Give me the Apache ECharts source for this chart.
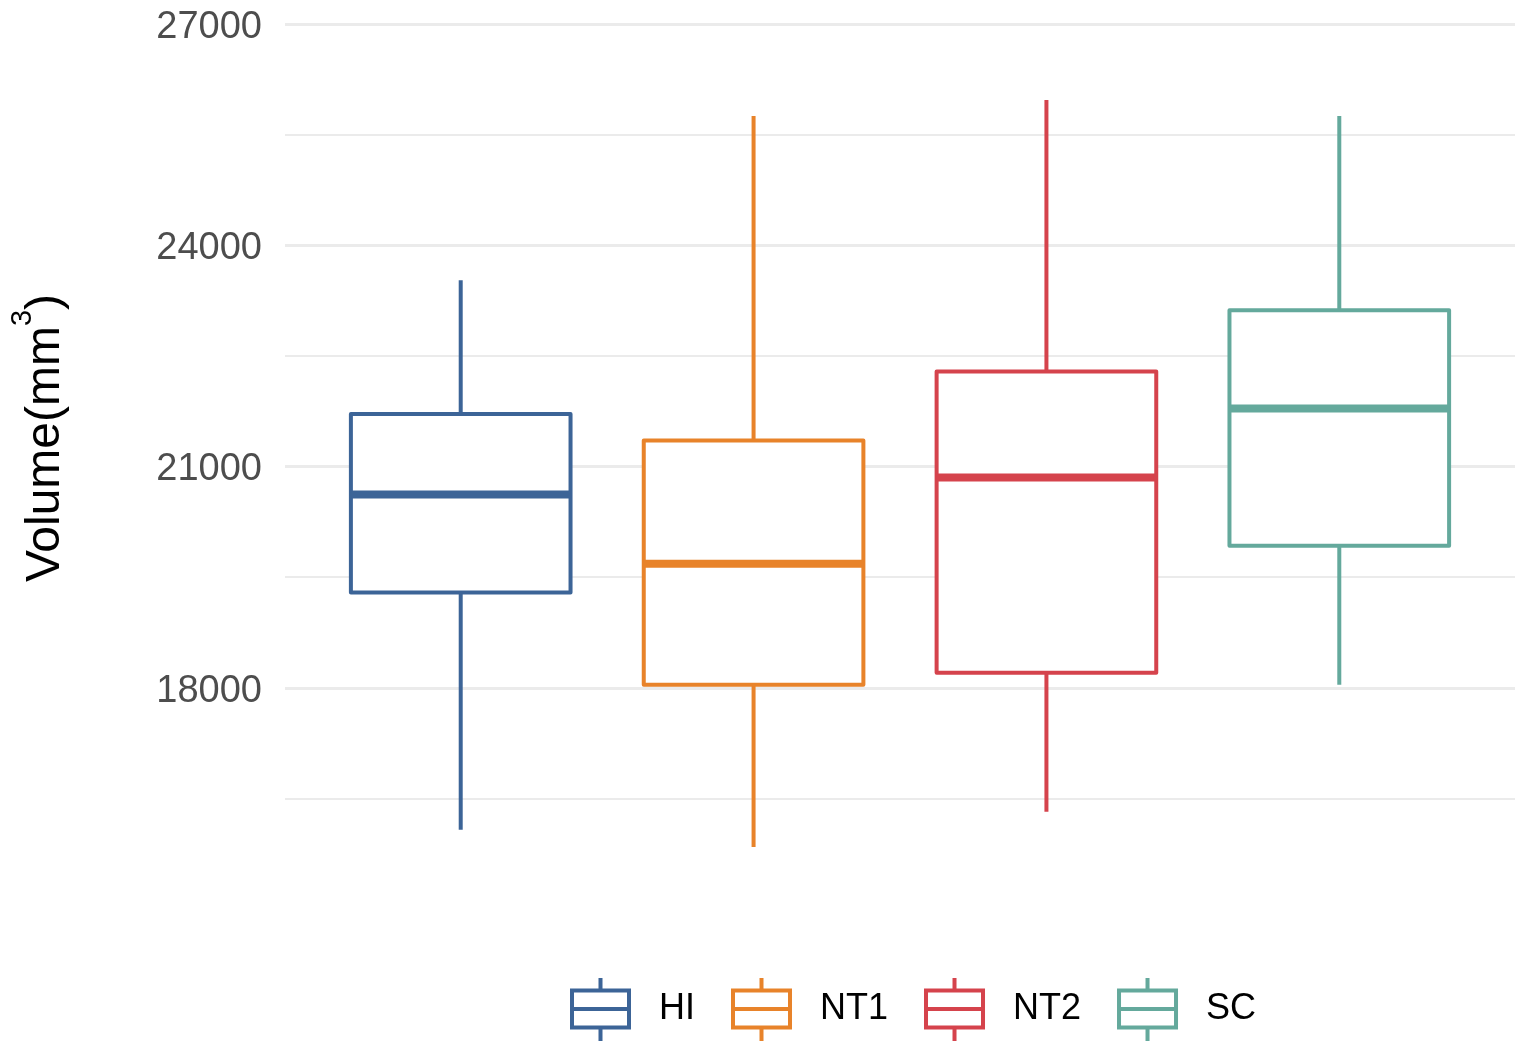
<!DOCTYPE html>
<html>
<head>
<meta charset="utf-8">
<title>Volume by group</title>
<script src="https://cdn.jsdelivr.net/npm/echarts@6/dist/echarts.min.js"></script>
<style>
  html, body { margin: 0; padding: 0; background: #ffffff; }
  #chart { width: 1526px; height: 1042px; }
</style>
</head>
<body>
<div id="chart"></div>
<script>
// Groups and their five-number summaries (mm^3)
const categories = ['HI', 'NT1', 'NT2', 'SC'];
const whiskerLow = [16073, 15842, 16317, 18041];
const lowerQuartile = [19290, 18041, 18204, 19927];
const medians = [20620, 19683, 20851, 21787];
const upperQuartile = [21712, 21353, 22289, 23118];
const whiskerHigh = [23525, 25751, 25968, 25751];

const groupColors = ['#3C6497', '#E8832A', '#D5434C', '#64A99C'];

const yTickValues = [18000, 21000, 24000, 27000];

const FONT = '"Liberation Sans", Arial, Helvetica, sans-serif';
const BOX_WIDTH = 0.75;   // box width in category units
const LINE_W = 4;
const MEDIAN_W = 8;

// Box-glyph used for legend keys
const legendGlyph = 'path://M28.5 0 L28.5 12.5 M0 12.5 L57 12.5 L57 49.5 L0 49.5 Z M0 31 L57 31 M28.5 49.5 L28.5 63';

function renderBox(params, api) {
  const x = api.value(0);
  const color = api.visual('color');
  const pLow = api.coord([x, api.value(1)]);
  const pQ1 = api.coord([x, api.value(2)]);
  const pMed = api.coord([x, api.value(3)]);
  const pQ3 = api.coord([x, api.value(4)]);
  const pHigh = api.coord([x, api.value(5)]);
  const half = api.size([BOX_WIDTH, 0])[0] / 2;
  const cx = pMed[0];
  const stroke = { stroke: color, lineWidth: LINE_W, fill: null };
  return {
    type: 'group',
    children: [
      { type: 'line', shape: { x1: cx, y1: pHigh[1], x2: cx, y2: pQ3[1] }, style: stroke },
      { type: 'line', shape: { x1: cx, y1: pQ1[1], x2: cx, y2: pLow[1] }, style: stroke },
      {
        type: 'rect',
        shape: { x: cx - half, y: pQ3[1], width: half * 2, height: pQ1[1] - pQ3[1] },
        style: { stroke: color, lineWidth: LINE_W, fill: '#ffffff', lineJoin: 'round' }
      },
      { type: 'line', shape: { x1: cx - half, y1: pMed[1], x2: cx + half, y2: pMed[1] },
        style: { stroke: color, lineWidth: MEDIAN_W, fill: null } }
    ]
  };
}

const series = categories.map(function (name, i) {
  return {
    name: name,
    type: 'custom',
    renderItem: renderBox,
    itemStyle: { color: groupColors[i] },
    encode: { x: 0, y: [1, 2, 3, 4, 5] },
    data: [[i, whiskerLow[i], lowerQuartile[i], medians[i], upperQuartile[i], whiskerHigh[i]]],
    silent: true
  };
});

const chart = echarts.init(document.getElementById('chart'), null, { renderer: 'canvas' });

chart.setOption({
  backgroundColor: '#ffffff',
  animation: false,
  grid: { left: 285, right: 11, top: 24, bottom: 133, containLabel: false },
  xAxis: {
    type: 'value',
    min: -0.6,
    max: categories.length - 1 + 0.6,
    show: false,
    splitLine: { show: false }
  },
  yAxis: {
    type: 'value',
    min: 15000,
    max: yTickValues[yTickValues.length - 1],
    interval: 3000,
    axisLine: { show: false },
    axisTick: { show: false },
    axisLabel: {
      showMinLabel: false,
      margin: 23,
      formatter: function (v) { return yTickValues.indexOf(v) >= 0 ? '{v|' + v + '}' : ''; },
      rich: {
        v: { fontSize: 38, color: '#4d4d4d', fontFamily: FONT, padding: [7, 0, 0, 0] }
      }
    },
    splitLine: { show: true, showMinLine: false, lineStyle: { color: '#ebebeb', width: 3 } },
    minorTick: { show: false, splitNumber: 2 },
    minorSplitLine: { show: true, lineStyle: { color: '#ebebeb', width: 2 } }
  },
  legend: {
    left: 570,
    top: 976,
    padding: 0,
    orient: 'horizontal',
    itemWidth: 57,
    itemHeight: 63,
    itemGap: 36,
    selectedMode: false,
    textStyle: { fontSize: 36, color: '#000000', fontFamily: FONT, padding: [0, 0, 0, 25] },
    data: categories.map(function (name, i) {
      return {
        name: name,
        icon: legendGlyph,
        itemStyle: { color: '#ffffff', borderColor: groupColors[i], borderWidth: 4 }
      };
    })
  },
  graphic: [{
    type: 'text',
    x: 39,
    y: 438,
    rotation: Math.PI / 2,
    silent: true,
    style: {
      text: '{a|Volume(mm}{s|3}{a|)}',
      align: 'center',
      verticalAlign: 'middle',
      rich: {
        a: { fontSize: 48, fontFamily: FONT, fill: '#000000', lineHeight: 62, verticalAlign: 'bottom' },
        s: { fontSize: 29, fontFamily: FONT, fill: '#000000', lineHeight: 62, verticalAlign: 'top' }
      }
    }
  }],
  series: series
});
</script>
</body>
</html>
